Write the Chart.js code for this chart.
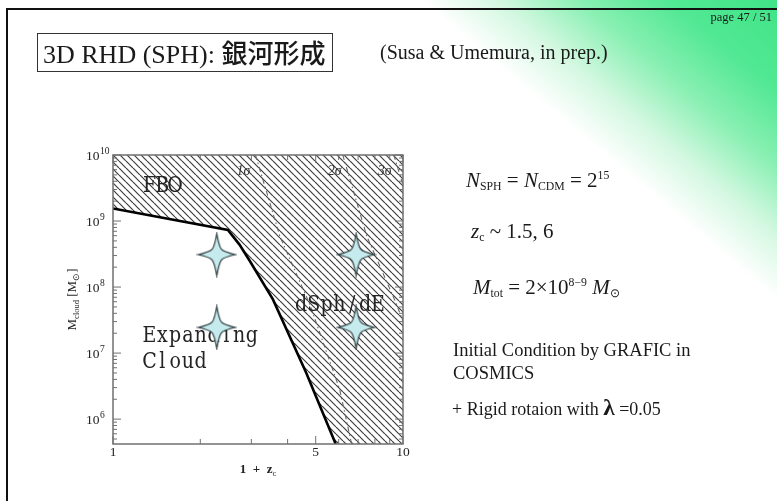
<!DOCTYPE html>
<html>
<head>
<meta charset="utf-8">
<script src="https://cdn.jsdelivr.net/npm/chart.js@4.4.1/dist/chart.umd.min.js"></script>
<style>
  html, body { margin: 0; padding: 0; background: #fff; }
  #slide {
    position: relative; width: 777px; height: 501px; overflow: hidden;
    background: linear-gradient(40deg, #fff 0%, #fff 74%, #d4f8e1 79.5%, #8af0b3 85.5%, #52e894 92%, #40e487 100%);
  }
  #frame {
    position: absolute; left: 6px; top: 8px; width: 771px; height: 493px;
    border-left: 2px solid #111; border-top: 2px solid #111; box-sizing: border-box;
  }
  #chart { position: absolute; left: 0; top: 0; }
  .t { position: absolute; white-space: nowrap; font-family: "Liberation Serif", "Times New Roman", serif; color: #1a1a1a; line-height: 1; }
  .sb { font-size: 0.56em; position: relative; top: 0.28em; line-height: 0; }
  .sp { font-size: 0.56em; position: relative; top: -0.72em; line-height: 0; }
  .cjk { font-family: "Noto Sans CJK JP", sans-serif; font-weight: 500; }
  #titlebox { position: absolute; left: 37px; top: 33px; width: 296px; height: 39px; border: 1px solid #333; box-sizing: border-box; }
</style>
</head>
<body>
<div id="slide">
  <div id="frame"></div>
  <canvas id="chart" width="777" height="501"></canvas>

  <div id="titlebox"></div>
  <div class="t" style="left:43px; top:39px; font-size:26px;">3D RHD (SPH): <span class="cjk">銀河形成</span></div>
  <div class="t" style="left:380px; top:42px; font-size:20px;">(Susa &amp; Umemura, in prep.)</div>
  <div class="t" style="right:5px; top:11px; font-size:12.5px;">page 47 / 51</div>

  <div class="t" style="left:466px; top:170px; font-size:21px;"><i>N</i><span class="sb">SPH</span> = <i>N</i><span class="sb">CDM</span> = 2<span class="sp">15</span></div>
  <div class="t" style="left:471px; top:221px; font-size:21px;"><i>z</i><span class="sb">c</span> ~ 1.5, 6</div>
  <div class="t" style="left:473px; top:277px; font-size:21px;"><i>M</i><span class="sb">tot</span> = 2×10<span class="sp">8−9</span> <i>M</i><span class="sb">⊙</span></div>
  <div class="t" style="left:453px; top:341px; font-size:18.5px;">Initial Condition by GRAFIC in</div>
  <div class="t" style="left:453px; top:364px; font-size:18.5px;">COSMICS</div>
  <div class="t" style="left:452px; top:396px; font-size:18px;">+ Rigid rotaion with <b style="font-size:1.3em">λ</b> =0.05</div>
</div>

<script>
// Axis limits: collapse epoch 1+z_c and cloud mass in solar masses
const zRange = [1, 10];
const massRange = [4.2e5, 1e10];

// Boundary between expanding clouds and collapsing (hatched) region
const boundaryZ = [1, 2.49, 2.73, 2.96, 3.56, 4.64, 5.86];
const boundaryM = [1.55e9, 7.3e8, 4.4e8, 2.5e8, 6.5e7, 5.0e6, 4.2e5];

// 1σ, 2σ, 3σ density-peak collapse curves
const sigma1Z = [3.10, 3.76, 4.77, 6.05, 6.65];
const sigma1M = [1e10, 5.9e8, 5.5e7, 2.8e6, 4.2e5];
const sigma2Z = [6.2, 7.5, 9.5, 10];
const sigma2M = [1e10, 5.9e8, 5.5e7, 3.0e7];
const sigma3Z = [9.3, 10];
const sigma3M = [1e10, 3.5e9];

// Simulated runs (z_c ~ 1.5, 6; M_tot ~ 2x10^8-9)
const runZ = [2.28, 2.28, 6.89, 6.89];
const runM = [3.1e8, 2.45e7, 3.1e8, 2.45e7];

// Tick values
const zLabelTicks = [1, 5, 10];
const zMinorTicks = [2, 3, 4, 6, 7, 8, 9];
const massExponents = [6, 7, 8, 9, 10];

// Text annotations anchored in data space
const sigmaNames = ['1σ', '2σ', '3σ'];
const sigmaNameZ = [2.82, 5.81, 8.65];
const sigmaNameM = [5.6e9, 5.6e9, 5.6e9];
const regionNames = ['FBO', 'Expanding', 'Cloud', 'dSph/dE'];
const regionZ = [1.27, 1.27, 1.27, 4.23];
const regionM = [2.8e9, 1.45e7, 6.0e6, 4.3e7];

const pts = (xs, ys) => xs.map((v, i) => ({ x: v, y: ys[i] }));

const canvas = document.getElementById('chart');
const ctx0 = canvas.getContext('2d');

// diagonal hatching tile
const tile = document.createElement('canvas');
tile.width = tile.height = 7;
const tg = tile.getContext('2d');
tg.strokeStyle = '#3c3c3c';
tg.lineWidth = 1.15;
for (const o of [-7, 0, 7]) {
  tg.beginPath(); tg.moveTo(o, 0); tg.lineTo(o + 7, 7); tg.stroke();
}
const hatch = ctx0.createPattern(tile, 'repeat');

// four-pointed star marker with slender spikes
function makeStar(w, h) {
  const c = document.createElement('canvas');
  c.width = w + 4; c.height = h + 4;
  const g = c.getContext('2d');
  const cx = c.width / 2, cy = c.height / 2, rx = w / 2, ry = h / 2, k = 0.17;
  const tips = [[0, -ry], [rx, 0], [0, ry], [-rx, 0]];
  g.beginPath();
  g.moveTo(cx + tips[0][0], cy + tips[0][1]);
  for (let i = 0; i < 4; i++) {
    const a = tips[i], b = tips[(i + 1) % 4];
    const mx = (a[0] + b[0]) * k, my = (a[1] + b[1]) * k;
    g.bezierCurveTo(cx + mx, cy + my, cx + mx, cy + my, cx + b[0], cy + b[1]);
  }
  g.closePath();
  g.fillStyle = '#c6ebee'; g.fill();
  g.strokeStyle = '#2b3b3d'; g.lineWidth = 1.2; g.stroke();
  return c;
}
const starIcon = makeStar(37, 42);

// monospaced serif lettering, slightly tall
function monoText(ctx, str, x, y) {
  ctx.save();
  ctx.translate(x, y);
  ctx.scale(1, 1.2);
  ctx.font = '19px "DejaVu Serif", serif';
  ctx.textAlign = 'center';
  ctx.textBaseline = 'alphabetic';
  [...str].forEach((ch, i) => ctx.fillText(ch, 12.8 * (i + 0.5), 0));
  ctx.restore();
}

const regionText = {
  id: 'regionText',
  beforeDatasetDraw(chart, args) {
    if (args.index !== 0) return;
    const { ctx, scales: { x, y } } = chart;
    ctx.save();
    ctx.fillStyle = '#242424';
    regionNames.forEach((s, i) => monoText(ctx, s, x.getPixelForValue(regionZ[i]), y.getPixelForValue(regionM[i])));
    ctx.font = 'italic 14px "Liberation Serif", serif';
    ctx.fillStyle = '#333';
    ctx.textAlign = 'center';
    ctx.textBaseline = 'middle';
    sigmaNames.forEach((s, i) => ctx.fillText(s, x.getPixelForValue(sigmaNameZ[i]), y.getPixelForValue(sigmaNameM[i])));
    ctx.restore();
  }
};

const axesFrame = {
  id: 'axesFrame',
  afterDatasetsDraw(chart) {
    const { ctx, chartArea: a, scales: { x, y } } = chart;
    const seg = (x1, y1, x2, y2) => { ctx.beginPath(); ctx.moveTo(x1, y1); ctx.lineTo(x2, y2); ctx.stroke(); };
    ctx.save();
    ctx.strokeStyle = '#707070';
    ctx.lineWidth = 1.5;
    ctx.strokeRect(a.left, a.top, a.right - a.left, a.bottom - a.top);
    ctx.lineWidth = 1;

    // mass ticks, inward on left and right
    for (let e = 5; e <= 10; e++) {
      for (let m = 1; m <= 9; m++) {
        const v = m * Math.pow(10, e);
        if (v < massRange[0] || v > massRange[1]) continue;
        const p = y.getPixelForValue(v);
        const len = m === 1 ? 8 : 4;
        seg(a.left, p, a.left + len, p);
        seg(a.right, p, a.right - len, p);
      }
    }
    // redshift ticks, inward on bottom and top
    zLabelTicks.forEach(v => {
      const p = x.getPixelForValue(v);
      seg(p, a.bottom, p, a.bottom - 8); seg(p, a.top, p, a.top + 8);
    });
    zMinorTicks.forEach(v => {
      const p = x.getPixelForValue(v);
      seg(p, a.bottom, p, a.bottom - 5); seg(p, a.top, p, a.top + 5);
    });

    // tick labels
    ctx.fillStyle = '#222';
    ctx.textBaseline = 'middle';
    ctx.textAlign = 'left';
    massExponents.forEach(e => {
      const p = y.getPixelForValue(Math.pow(10, e));
      ctx.font = '13.5px "Liberation Serif", serif';
      ctx.fillText('10', a.left - 27, p + 1);
      const w = ctx.measureText('10').width;
      ctx.font = '9.5px "Liberation Serif", serif';
      ctx.fillText(String(e), a.left - 27 + w + 0.5, p - 4);
    });
    ctx.textAlign = 'center';
    ctx.font = '13.5px "Liberation Serif", serif';
    zLabelTicks.forEach(v => ctx.fillText(String(v), x.getPixelForValue(v), a.bottom + 8));

    // axis titles
    const main = '13px "Liberation Serif", serif';
    const small = '8.5px "Liberation Serif", serif';
    const drawPieces = (pieces) => {
      let total = 0;
      pieces.forEach(pc => { ctx.font = pc[1]; total += ctx.measureText(pc[0]).width; });
      let cx = -total / 2;
      ctx.textAlign = 'left';
      ctx.textBaseline = 'alphabetic';
      pieces.forEach(pc => { ctx.font = pc[1]; ctx.fillText(pc[0], cx, pc[2]); cx += ctx.measureText(pc[0]).width; });
    };
    ctx.save();
    ctx.translate((a.left + a.right) / 2, a.bottom + 29);
    drawPieces([['1  +  z', 'bold ' + main, 0], ['c', small, 3]]);
    ctx.restore();
    ctx.save();
    ctx.translate(a.left - 37, (a.top + a.bottom) / 2);
    ctx.rotate(-Math.PI / 2);
    drawPieces([['M', main, 0], ['cloud', small, 3], [' [M', main, 0], ['⊙', small, 3], [']', main, 0]]);
    ctx.restore();
    ctx.restore();
  }
};

const lineDefaults = { showLine: true, pointRadius: 0, fill: false, tension: 0 };

new Chart(canvas, {
  type: 'scatter',
  data: {
    datasets: [
      { label: 'runs', data: pts(runZ, runM), pointStyle: starIcon, pointRadius: 20 },
      { ...lineDefaults, label: 'boundary', data: pts(boundaryZ, boundaryM), borderColor: '#000', borderWidth: 2.6 },
      { ...lineDefaults, label: '1σ', data: pts(sigma1Z, sigma1M), borderColor: '#666', borderWidth: 1.1, borderDash: [5, 3, 1.5, 3] },
      { ...lineDefaults, label: '2σ', data: pts(sigma2Z, sigma2M), borderColor: '#666', borderWidth: 1.1, borderDash: [5, 3, 1.5, 3] },
      { ...lineDefaults, label: '3σ', data: pts(sigma3Z, sigma3M), borderColor: '#666', borderWidth: 1.1, borderDash: [5, 3, 1.5, 3] },
      { ...lineDefaults, label: 'collapsing region',
        data: pts([...boundaryZ, zRange[1]], [...boundaryM, massRange[0]]),
        borderWidth: 0, backgroundColor: hatch, fill: 'end' }
    ]
  },
  options: {
    responsive: false,
    animation: false,
    devicePixelRatio: 1,
    events: [],
    layout: { padding: { left: 113, top: 155, right: 374, bottom: 57 } },
    scales: {
      x: { type: 'logarithmic', min: zRange[0], max: zRange[1], display: false },
      y: { type: 'logarithmic', min: massRange[0], max: massRange[1], display: false }
    },
    plugins: { legend: { display: false }, tooltip: { enabled: false } }
  },
  plugins: [regionText, axesFrame]
});
</script>
</body>
</html>
